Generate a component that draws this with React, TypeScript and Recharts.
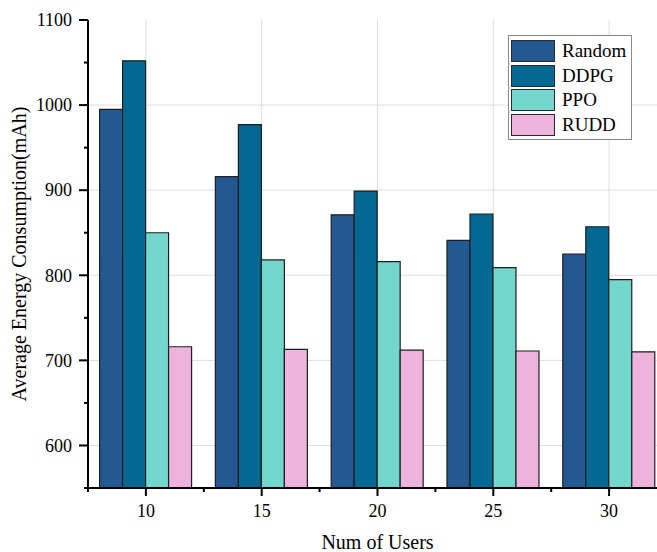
import {
  BarChart,
  Bar,
  XAxis,
  YAxis,
  CartesianGrid,
  Legend,
} from "recharts";

const users = [10, 15, 20, 25, 30];
const randomVals = [995, 916, 871, 841, 825];
const ddpgVals = [1052, 977, 899, 872, 857];
const ppoVals = [850, 818, 816, 809, 795];
const ruddVals = [716, 713, 712, 711, 710];

const yTicks = [550, 600, 650, 700, 750, 800, 850, 900, 950, 1000, 1050, 1100];
const gridValues = [600, 700, 800, 900, 1000];

const seriesNames = ["Random", "DDPG", "PPO", "RUDD"];
const seriesColors = ["#235891", "#016991", "#74d7ce", "#eeb3dd"];

const FONT = '"Liberation Serif", "Times New Roman", serif';

const CHART_W = 680;
const CHART_H = 552;
const MARGIN = { top: 20, right: 13, left: 28, bottom: 24 };
const Y_AXIS_W = 60;
const PLOT_W = CHART_W - MARGIN.left - MARGIN.right - Y_AXIS_W;
const BAND = PLOT_W / users.length;

const data = users.map((u, i) => ({
  users: u,
  Random: randomVals[i],
  DDPG: ddpgVals[i],
  PPO: ppoVals[i],
  RUDD: ruddVals[i],
}));

// custom ticks: major + minor lines drawn here so they can differ in length
const XTick = (props: any) => {
  const { x, y, payload, index } = props;
  const axisY = y;
  const half = BAND / 2;
  return (
    <g>
      <line x1={x} x2={x} y1={axisY} y2={axisY + 8} stroke="#000" strokeWidth={2} />
      <line x1={x + half} x2={x + half} y1={axisY} y2={axisY + 4} stroke="#000" strokeWidth={2} />
      {index === 0 && (
        <line x1={x - half} x2={x - half} y1={axisY} y2={axisY + 4} stroke="#000" strokeWidth={2} />
      )}
      <text x={x} y={axisY + 29} textAnchor="middle" fontFamily={FONT} fontSize={18} fill="#000">
        {payload.value}
      </text>
    </g>
  );
};

const YTick = (props: any) => {
  const { x, y, payload } = props;
  const axisX = x;
  const v = payload.value as number;
  const major = v % 100 === 0;
  return (
    <g>
      <line x1={axisX - (major ? 9 : 4)} x2={axisX} y1={y} y2={y} stroke="#000" strokeWidth={2} />
      {major && (
        <text x={axisX - 16} y={y} dy="0.35em" textAnchor="end" fontFamily={FONT} fontSize={18} fill="#000">
          {v}
        </text>
      )}
    </g>
  );
};

const LegendBox = (props: any) => {
  const payload = [...(props.payload || [])].sort(
    (a: any, b: any) => seriesNames.indexOf(a.value) - seriesNames.indexOf(b.value)
  );
  return (
    <div
      style={{
        border: "1px solid #8a8a8a",
        background: "#fff",
        padding: "3px 0 2px 2px",
        fontFamily: FONT,
        fontSize: 19,
        color: "#000",
        boxSizing: "border-box",
        width: 124,
      }}
    >
      {payload.map((p: any) => (
        <div key={p.value} style={{ display: "flex", alignItems: "center", height: 24.5 }}>
          <div
            style={{
              width: 44,
              height: 22,
              background: p.color,
              border: "1.5px solid #2a2a2a",
              boxSizing: "border-box",
              marginRight: 7,
            }}
          />
          <span style={{ lineHeight: "22px" }}>{p.value}</span>
        </div>
      ))}
    </div>
  );
};

export default function App() {
  return (
    <div
      style={{
        position: "absolute",
        left: 0,
        top: 0,
        width: 657,
        height: 552,
        overflow: "hidden",
        background: "#fff",
      }}
    >
      <BarChart
        width={CHART_W}
        height={CHART_H}
        data={data}
        margin={MARGIN}
        barCategoryGap="10%"
        barGap={0}
      >
        <CartesianGrid stroke="#dedede" strokeWidth={1} horizontalValues={gridValues} />
        <XAxis
          dataKey="users"
          height={40}
          tickSize={0}
          tickMargin={0}
          tickLine={false}
          tick={<XTick />}
          axisLine={{ stroke: "#000", strokeWidth: 2 }}
          label={(p: any) => {
            const vb = p.viewBox || {};
            return (
              <text
                x={vb.x + vb.width / 2}
                y={549}
                textAnchor="middle"
                fontFamily={FONT}
                fontSize={20}
                fill="#000"
              >
                Num of Users
              </text>
            );
          }}
        />
        <XAxis
          xAxisId="top"
          dataKey="users"
          orientation="top"
          height={0}
          tick={false}
          tickLine={false}
          axisLine={{ stroke: "#000", strokeWidth: 2 }}
        />
        <YAxis
          width={Y_AXIS_W}
          domain={[550, 1100]}
          ticks={yTicks}
          interval={0}
          allowDataOverflow
          tickSize={0}
          tickMargin={0}
          tickLine={false}
          tick={<YTick />}
          axisLine={{ stroke: "#000", strokeWidth: 2 }}
          label={(p: any) => {
            const vb = p.viewBox || {};
            const cx = 26;
            const cy = vb.y + vb.height / 2;
            return (
              <text
                x={cx}
                y={cy}
                transform={`rotate(-90 ${cx} ${cy})`}
                textAnchor="middle"
                fontFamily={FONT}
                fontSize={20}
                fill="#000"
              >
                Average Energy Consumption(mAh)
              </text>
            );
          }}
        />
        <Legend
          layout="vertical"
          align="center"
          verticalAlign="middle"
          content={<LegendBox />}
          wrapperStyle={{ left: 508, top: 35, width: 124 }}
        />
        {seriesNames.map((name, i) => (
          <Bar
            key={name}
            dataKey={name}
            name={name}
            fill={seriesColors[i]}
            stroke="#1e1e1e"
            strokeWidth={1.2}
            isAnimationActive={false}
          />
        ))}
      </BarChart>
    </div>
  );
}
